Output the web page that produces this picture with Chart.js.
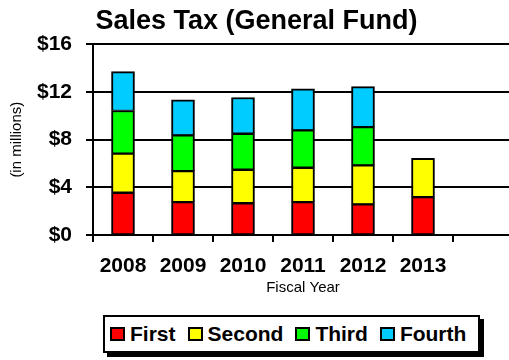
<!DOCTYPE html>
<html>
<head>
<meta charset="utf-8">
<title>Sales Tax (General Fund)</title>
<script src="https://cdn.jsdelivr.net/npm/chart.js@4/dist/chart.umd.min.js"></script>
<style>
  html, body { margin: 0; padding: 0; background: #fff; overflow: hidden; }
  #wrap { position: relative; width: 509px; height: 360px; overflow: hidden; }
  #salesChart { position: absolute; left: 0; top: 0; }
  #legend {
    position: absolute; left: 103px; top: 315px; width: 368px; height: 34px;
    border: 2px solid #000; background: #fff; box-shadow: 4px 4px 0 #000;
    display: flex; align-items: center; padding-left: 5px; box-sizing: content-box;
    font: bold 21px "Liberation Sans", Arial, sans-serif; color: #000;
  }
  #legend .item { display: flex; align-items: center; margin-right: 12px; }
  #legend .swatch { width: 11px; height: 10px; border: 2px solid #000; margin-right: 5px; }
</style>
</head>
<body>
<div id="wrap">
  <canvas id="salesChart" width="513" height="300"></canvas>
  <div id="legend"></div>
</div>
<script>
// fiscal years (last slot left empty on purpose)
const years = ["2008", "2009", "2010", "2011", "2012", "2013", ""];
const quarters = ["First", "Second", "Third", "Fourth"];
const quarterColors = ["#ff0000", "#ffff00", "#00ff00", "#00ccff"];

// quarterly receipts, $ millions
const firstQtr = [3.59, 2.80, 2.71, 2.80, 2.61, 3.22, null];
const secondQtr = [3.28, 2.60, 2.81, 2.89, 3.27, 3.22, null];
const thirdQtr = [3.58, 3.00, 3.02, 3.13, 3.22, null, null];
const fourthQtr = [3.27, 2.94, 3.00, 3.45, 3.36, null, null];

const yMax = 16;
const yStep = 4;

const FONT = '"Liberation Sans", Arial, sans-serif';
Chart.defaults.font.family = FONT;
Chart.defaults.color = "#000";

const series = [firstQtr, secondQtr, thirdQtr, fourthQtr];

const datasets = series.map((vals, i) => ({
    label: quarters[i],
    data: vals,
    backgroundColor: quarterColors[i],
    borderColor: "#000",
    borderWidth: { left: 2, right: 2, top: 2, bottom: 1 },
    borderSkipped: false,
    barThickness: 23
}));

new Chart(document.getElementById("salesChart"), {
    type: "bar",
    data: { labels: years, datasets: datasets },
    options: {
        responsive: false,
        animation: false,
        plugins: {
            legend: { display: false },
            tooltip: { enabled: false },
            title: {
                display: true,
                text: "Sales Tax (General Fund)",
                color: "#000",
                font: { size: 27, weight: "bold" },
                padding: { top: 5, bottom: 7 }
            }
        },
        scales: {
            x: {
                stacked: true,
                grid: { drawOnChartArea: false, drawTicks: true, tickLength: 7, color: "#000", lineWidth: 2, offset: true },
                border: { color: "#000", width: 2 },
                ticks: { font: { size: 21, weight: "bold" }, color: "#000", padding: 12, maxRotation: 0, autoSkip: false },
                title: { display: true, text: "Fiscal Year", color: "#000", font: { size: 15 }, padding: { top: 0, bottom: 3 } },
                afterFit: function (scale) { scale.height = 65; }
            },
            y: {
                stacked: true,
                min: 0,
                max: yMax,
                grid: { color: "#000", lineWidth: 2, tickLength: 7 },
                border: { color: "#000", width: 2 },
                ticks: {
                    stepSize: yStep,
                    font: { size: 21, weight: "bold" },
                    color: "#000",
                    padding: 14,
                    callback: v => "$" + v
                },
                title: { display: true, text: "(in millions)", color: "#000", font: { size: 15 }, padding: { top: 8, bottom: 0 } },
                afterFit: function (scale) { scale.width = 93; }
            }
        }
    }
});

// legend box below the chart
const legend = document.getElementById("legend");
quarters.forEach((q, i) => {
    const item = document.createElement("span");
    item.className = "item";
    const sw = document.createElement("span");
    sw.className = "swatch";
    sw.style.background = quarterColors[i];
    item.appendChild(sw);
    item.appendChild(document.createTextNode(q));
    legend.appendChild(item);
});
</script>
</body>
</html>
